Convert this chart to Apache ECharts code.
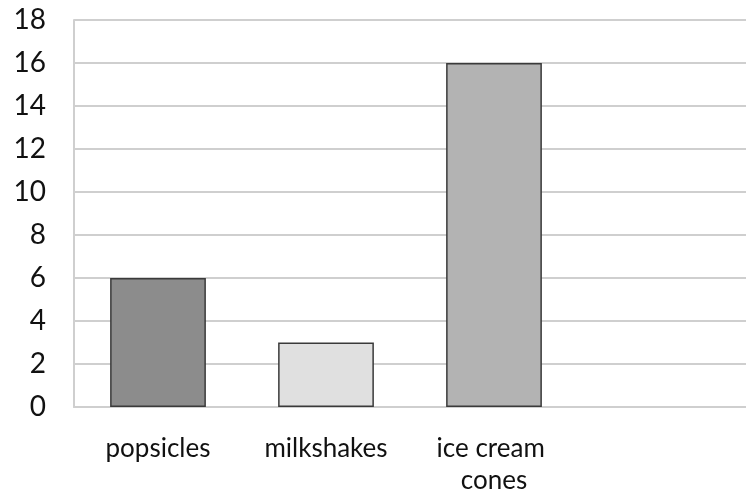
<!DOCTYPE html>
<html>
<head>
<meta charset="utf-8">
<script src="https://cdn.jsdelivr.net/npm/echarts@6/dist/echarts.min.js"></script>
<style>
  html, body { margin: 0; padding: 0; background: #fff; }
  #chart { width: 746px; height: 493px; }
</style>
</head>
<body>
<div id="chart"></div>
<script>
// Treats sold, one bar per item; the trailing empty slot leaves room on the right.
const categories = ['popsicles', 'milkshakes', 'ice cream cones', ''];
const sold = [6, 3, 16, null];
const barColors = ['#8c8c8c', '#e0e0e0', '#b3b3b3', '#ffffff'];

const chart = echarts.init(document.getElementById('chart'));
chart.setOption({
  animation: false,
  grid: { left: 74, right: 0, top: 20, bottom: 86, containLabel: false, outerBoundsMode: 'none' },
  xAxis: {
    type: 'category',
    data: categories,
    axisLine: { show: true, lineStyle: { color: '#cfcfcf', width: 2 } },
    axisTick: { show: false },
    axisLabel: {
      interval: 0,
      margin: 26,
      color: '#111',
      fontFamily: 'Lato',
      fontSize: 26,
      lineHeight: 32,
      width: 150,
      overflow: 'break'
    }
  },
  yAxis: {
    type: 'value',
    min: 0,
    max: 18,
    interval: 2,
    axisLine: { show: true, lineStyle: { color: '#cfcfcf', width: 2 } },
    axisTick: { show: false },
    splitLine: { lineStyle: { color: '#cfcfcf', width: 2 } },
    axisLabel: {
      margin: 28,
      color: '#111',
      fontFamily: 'Lato',
      fontSize: 28
    }
  },
  series: [{
    type: 'bar',
    barWidth: '57%',
    data: sold.map((v, i) => ({
      value: v,
      itemStyle: { color: barColors[i] }
    })),
    itemStyle: { borderColor: '#3a3a3a', borderWidth: 1.5 }
  }]
});
</script>
</body>
</html>
